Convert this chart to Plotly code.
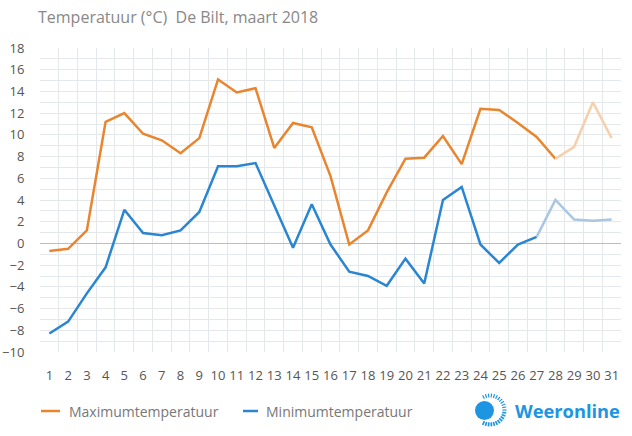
import math
import plotly.graph_objects as go

days = list(range(1, 32))
day_labels = [str(d) for d in days]
max_temp = [-0.7, -0.5, 1.2, 11.2, 12.0, 10.1, 9.5, 8.3, 9.7, 15.1, 13.9, 14.3, 8.8, 11.1, 10.7,
            6.2, -0.1, 1.2, 4.7, 7.8, 7.9, 9.9, 7.3, 12.4, 12.3, 11.1, 9.8, 7.8, 8.9, 13.0, 9.7]
min_temp = [-8.3, -7.2, -4.6, -2.2, 3.1, 0.95, 0.75, 1.2, 2.9, 7.1, 7.1, 7.4, 3.5, -0.4, 3.6,
            -0.1, -2.6, -3.0, -3.9, -1.4, -3.7, 4.0, 5.2, -0.1, -1.8, -0.1, 0.6, 4.0, 2.2, 2.1, 2.2]
max_obs_end = 28   # last day drawn in the dark colour (max)
min_obs_end = 27   # last day drawn in the dark colour (min)
y_ticks = list(range(-10, 19, 2))
series_names = ["Maximumtemperatuur", "Minimumtemperatuur"]

ORANGE = "#e9852f"
ORANGE_L = "#f6cfad"
BLUE = "#2a86d0"
BLUE_L = "#a9c6e3"

fig = go.Figure()
fig.add_trace(go.Scatter(x=days[:max_obs_end], y=max_temp[:max_obs_end], mode="lines",
                         line=dict(color=ORANGE, width=2.5), name=series_names[0]))
fig.add_trace(go.Scatter(x=days[max_obs_end - 1:], y=max_temp[max_obs_end - 1:], mode="lines",
                         line=dict(color=ORANGE_L, width=2.5)))
fig.add_trace(go.Scatter(x=days[:min_obs_end], y=min_temp[:min_obs_end], mode="lines",
                         line=dict(color=BLUE, width=2.5), name=series_names[1]))
fig.add_trace(go.Scatter(x=days[min_obs_end - 1:], y=min_temp[min_obs_end - 1:], mode="lines",
                         line=dict(color=BLUE_L, width=2.5)))

W, H = 632, 436
L, R, T, B = 40, 11, 48, 84
pw, ph = W - L - R, H - T - B

def px(x):
    return (x - L) / pw

def py(y):
    return (H - B - y) / ph

shapes = []
annotations = []
# legend (drawn manually for exact placement)
for (x0, x1, tx), col, name in zip([(41, 60, 67), (243, 258, 264)], [ORANGE, BLUE], series_names):
    shapes.append(dict(type="line", xref="paper", yref="paper",
                       x0=px(x0), x1=px(x1), y0=py(411), y1=py(411),
                       line=dict(color=col, width=2.5)))
    annotations.append(dict(text=name, xref="paper", yref="paper", x=px(tx), xanchor="left",
                            y=py(411), yanchor="middle", showarrow=False,
                            font=dict(family="Open Sans", size=14, color="#777777")))

# Weeronline sun logo
LOGO = "#1d95e0"
cx, cy, r = 484.5, 410.5, 9.5
shapes.append(dict(type="circle", xref="paper", yref="paper",
                   x0=px(cx - r), x1=px(cx + r), y0=py(cy + r), y1=py(cy - r),
                   fillcolor=LOGO, line=dict(width=0)))
rcx, rcy = 490.0, 410.0
n = 34
for i in range(n):
    a = 2 * math.pi * i / n
    deg = math.degrees(a)
    if 125 < deg < 235:
        continue
    r1, r2 = 12.5, 16.5
    w = 1.7 if deg > 180 else 1.2
    shapes.append(dict(type="line", xref="paper", yref="paper",
                       x0=px(rcx + r1 * math.cos(a)), y0=py(rcy - r1 * math.sin(a)),
                       x1=px(rcx + r2 * math.cos(a)), y1=py(rcy - r2 * math.sin(a)),
                       line=dict(color=LOGO, width=w)))
annotations.append(dict(text="<b>Weeronline</b>", xref="paper", yref="paper",
                        x=px(622), xanchor="right", y=py(410), yanchor="middle",
                        showarrow=False, font=dict(family="Open Sans", size=18.3, color=LOGO)))

fig.update_layout(
    width=W, height=H,
    margin=dict(l=L, r=R, t=T, b=B),
    paper_bgcolor="white", plot_bgcolor="white",
    showlegend=False,
    font=dict(family="Open Sans", color="#555555", size=13),
    title=dict(text="Temperatuur (°C)  De Bilt, maart 2018", x=38 / W, xanchor="left",
               y=1 - 17 / H, yanchor="middle",
               font=dict(family="Open Sans", size=16, color="#888888")),
    xaxis=dict(range=[0.5, 31.5], tickvals=days, ticktext=day_labels, showgrid=False,
               zeroline=False, showline=False, ticks="outside", ticklen=11, automargin=False,
               tickcolor="rgba(0,0,0,0)", tickfont=dict(size=13, color="#555"),
               minor=dict(tickvals=[d + 0.5 for d in days[:-1]], showgrid=True,
                          gridcolor="#e5e8eb", gridwidth=1, ticks="")),
    yaxis=dict(range=[-10, 18], tickvals=y_ticks, showgrid=False, automargin=False,
               zeroline=True, zerolinecolor="#bdbdbd", zerolinewidth=1, showline=False,
               ticks="outside", ticklen=12, tickcolor="rgba(0,0,0,0)",
               tickfont=dict(size=13, color="#555"),
               minor=dict(tickvals=[v for v in range(-9, 18) if v != 0], showgrid=True,
                          gridcolor="#e5e8eb", gridwidth=1, ticks="")),
    shapes=shapes,
    annotations=annotations,
)

fig.write_html("out.html")
